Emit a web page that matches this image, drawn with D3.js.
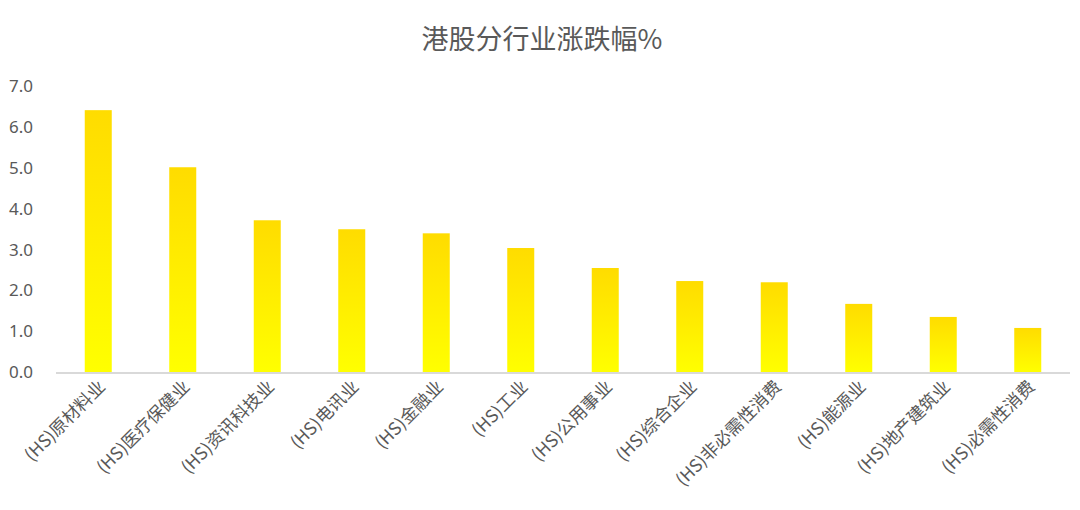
<!DOCTYPE html>
<html><head><meta charset="utf-8">
<script src="https://cdn.jsdelivr.net/npm/d3@7"></script>
<style>
html,body{margin:0;padding:0;background:#fff;}
text{font-family:"Noto Sans","Noto Sans CJK SC",sans-serif;fill:#595959;}
</style></head>
<body>
<svg id="chart" width="1080" height="510"></svg>
<script>
const title = "港股分行业涨跌幅%";
const categories = ["(HS)原材料业","(HS)医疗保健业","(HS)资讯科技业","(HS)电讯业","(HS)金融业","(HS)工业","(HS)公用事业","(HS)综合企业","(HS)非必需性消费","(HS)能源业","(HS)地产建筑业","(HS)必需性消费"];
const values = [6.42, 5.02, 3.72, 3.50, 3.40, 3.04, 2.55, 2.23, 2.20, 1.67, 1.35, 1.08];
const yTicks = [0,1,2,3,4,5,6,7];

(function(){
const svg = d3.select("#chart");
const mLeft = 56, mRight = 1070, mTop = 86.5, mBottom = 372;
const x = d3.scaleBand().domain(categories).range([mLeft, mRight]).padding(0);
const y = d3.scaleLinear().domain([0,7]).range([mBottom, mTop]);

const defs = svg.append("defs");
const grad = defs.append("linearGradient").attr("id","g").attr("x1",0).attr("y1",0).attr("x2",0).attr("y2",1);
grad.append("stop").attr("offset","0%").attr("stop-color","#FFDC00");
grad.append("stop").attr("offset","100%").attr("stop-color","#FFFF00");

svg.append("text").attr("x",542).attr("y",49).attr("text-anchor","middle")
  .style("font-size","27px").style("font-family","'Noto Sans CJK SC',sans-serif").text(title);

const bw = 27;
svg.append("g").selectAll("rect").data(values).join("rect")
  .attr("x",(d,i)=>x(categories[i]) + x.bandwidth()/2 - bw/2)
  .attr("width",bw)
  .attr("y",d=>y(d))
  .attr("height",d=>y(0)-y(d))
  .attr("fill","url(#g)");

svg.append("line").attr("x1",mLeft).attr("x2",mRight).attr("y1",y(0)+1).attr("y2",y(0)+1)
  .attr("stroke","#d9d9d9").attr("stroke-width",2);

svg.append("g").selectAll("text").data(yTicks).join("text")
  .attr("x",33).attr("y",d=>y(d)).attr("dy","0.35em").attr("text-anchor","end")
  .style("font-size","17px").text(d=>d.toFixed(1));

svg.append("g").selectAll("text").data(categories).join("text")
  .attr("transform",d=>`translate(${x(d)+x.bandwidth()/2+8},${388}) rotate(-45)`)
  .attr("text-anchor","end")
  .style("font-size","17.5px").style("font-family","'Noto Sans CJK SC',sans-serif")
  .text(d=>d);
})();
</script>
</body></html>
